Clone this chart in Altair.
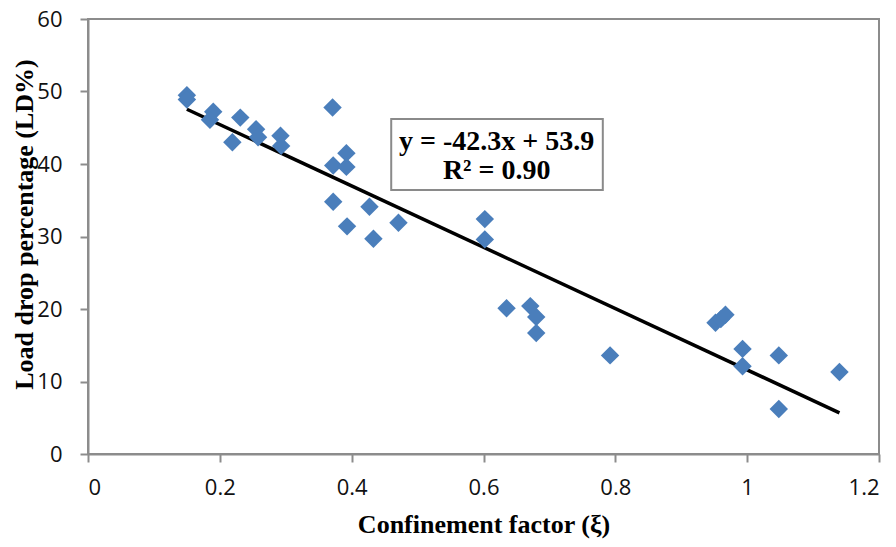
import altair as alt
import pandas as pd

# Scatter data
xi = [0.150, 0.150, 0.190, 0.185, 0.231, 0.219, 0.255, 0.258, 0.292, 0.293,
      0.371, 0.392, 0.372, 0.392, 0.372, 0.427, 0.393, 0.433, 0.471, 0.602,
      0.602, 0.635, 0.671, 0.680, 0.680, 0.792, 0.952, 0.960, 0.967, 0.993,
      0.993, 1.048, 1.048, 1.140]
ld = [49.5, 48.9, 47.2, 46.1, 46.4, 43.0, 44.8, 43.7, 43.9, 42.5,
      47.8, 41.5, 39.8, 39.6, 34.8, 34.1, 31.4, 29.7, 31.9, 32.4,
      29.6, 20.1, 20.4, 18.9, 16.7, 13.6, 18.1, 18.6, 19.2, 14.5,
      12.1, 13.6, 6.2, 11.3]

# Linear trend line (from the printed equation)
slope = -42.3
intercept = 53.9
trend_x = [0.15, 1.14]
trend_y = [slope * v + intercept for v in trend_x]

# Equation box annotation (data-space placement)
box_x = [0.460]
box_x2 = [0.781]
box_y = [46.2]
box_y2 = [36.4]
label_text = ["y = -42.3x + 53.9", "R² = 0.90"]
label_x = [0.620, 0.620]
label_y = [43.1, 39.1]

pts = pd.DataFrame({"x": xi, "y": ld})
trend = pd.DataFrame({"x": trend_x, "y": trend_y})
box = pd.DataFrame({"x": box_x, "x2": box_x2, "y": box_y, "y2": box_y2})
labels = pd.DataFrame({"t": label_text, "x": label_x, "y": label_y})

xs = alt.Scale(domain=[0, 1.2], nice=False, zero=False)
ys = alt.Scale(domain=[0, 60], nice=False)

xaxis = alt.Axis(values=[0, 0.2, 0.4, 0.6, 0.8, 1.0, 1.2], title="Confinement factor (ξ)",
                 labelExpr="datum.value == 1 ? '1' : format(datum.value, '.1~f')")
yaxis = alt.Axis(values=[0, 10, 20, 30, 40, 50, 60], title="Load drop percentage (LD%)")

points = alt.Chart(pts).mark_point(shape="diamond", filled=True, size=340,
                                   color="#4A7EBB", opacity=1).encode(
    x=alt.X("x:Q", scale=xs, axis=xaxis),
    y=alt.Y("y:Q", scale=ys, axis=yaxis),
)

line = alt.Chart(trend).mark_line(color="black", strokeWidth=3.5).encode(
    x=alt.X("x:Q", scale=xs),
    y=alt.Y("y:Q", scale=ys),
)

rect = alt.Chart(box).mark_rect(fill="white", stroke="#8a8a8a", strokeWidth=2).encode(
    x=alt.X("x:Q", scale=xs), x2="x2:Q",
    y=alt.Y("y:Q", scale=ys), y2="y2:Q",
)

text = alt.Chart(labels).mark_text(font="Liberation Serif", fontWeight="bold", fontSize=28,
                                   color="black", align="center", baseline="middle").encode(
    x=alt.X("x:Q", scale=xs),
    y=alt.Y("y:Q", scale=ys),
    text="t:N",
)

chart = alt.layer(line, points, rect, text).properties(
    width=791, height=435,
    autosize=alt.AutoSizeParams(type="none"),
    padding={"left": 80, "top": 11, "right": 9, "bottom": 85},
).configure_view(
    stroke="#8c8c8c", strokeWidth=2
).configure_axis(
    grid=False,
    domainColor="#8c8c8c", domainWidth=2,
    tickColor="#8c8c8c", tickWidth=2, tickSize=8,
    labelFont="Open Sans", labelFontSize=22, labelColor="#111111",
    titleFont="Liberation Serif", titleFontWeight="bold", titleColor="black",
).configure_axisX(
    labelPadding=15, titleFontSize=26, titleY=70, titleBaseline="middle",
).configure_axisY(
    labelPadding=18, titleFontSize=26, titleX=-64, titleY=205,
    titleAngle=-90, titleBaseline="middle", titleAlign="center",
)

chart.save("out.html", embed_options={"renderer": "svg", "actions": False})
